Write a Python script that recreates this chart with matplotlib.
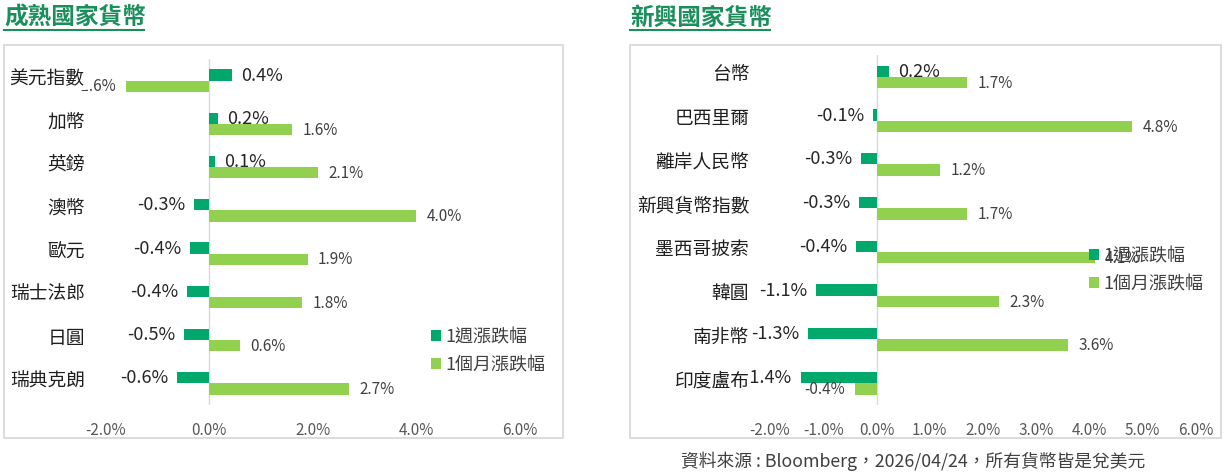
import numpy as np
import matplotlib
matplotlib.use("Agg")
import matplotlib.pyplot as plt
from matplotlib.patches import Rectangle
from matplotlib.lines import Line2D

plt.rcParams['font.family'] = ['Noto Sans CJK TC', 'DejaVu Sans']

# ── Datos ────────────────────────────────────────────────────────────────
dev_names = ['美元指數', '加幣', '英鎊', '澳幣', '歐元', '瑞士法郎', '日圓', '瑞典克朗']
dev_week = [0.44, 0.17, 0.11, -0.29, -0.37, -0.43, -0.48, -0.62]
dev_month = [-1.6, 1.6, 2.1, 4.0, 1.9, 1.8, 0.6, 2.7]
dev_ticks = [-2, 0, 2, 4, 6]

em_names = ['台幣', '巴西里爾', '離岸人民幣', '新興貨幣指數', '墨西哥披索', '韓圓', '南非幣', '印度盧布']
em_week = [0.23, -0.06, -0.29, -0.32, -0.38, -1.13, -1.28, -1.42]
em_month = [1.7, 4.8, 1.2, 1.7, 4.1, 2.3, 3.6, -0.4]
em_ticks = [-2, -1, 0, 1, 2, 3, 4, 5, 6]

series_names = ['1週漲跌幅', '1個月漲跌幅']
source_text = '資料來源 : Bloomberg，2026/04/24，所有貨幣皆是兌美元'

C_WEEK = '#00A86B'
C_MONTH = '#92D050'
C_TITLE = '#1A8F5C'
C_LINE = '#D9D9D9'

W, H = 1225, 472
fig = plt.figure(figsize=(W / 100, H / 100), dpi=100)


def px(x0, y0, x1, y1):
    # caja en pixeles (origen arriba-izquierda) -> fraccion de figura
    return [x0 / W, 1 - y1 / H, (x1 - x0) / W, (y1 - y0) / H]


def panel(rect, names, week, month, ticks, title, tbox, box, leg_xy):
    ax = fig.add_axes(px(*rect))
    y = np.arange(len(names))
    h = 0.26
    ax.barh(y - h / 2, week, height=h, color=C_WEEK, label=series_names[0], zorder=2)
    ax.barh(y + h / 2, month, height=h, color=C_MONTH, label=series_names[1], zorder=2)
    ax.set_ylim(len(names) - 0.5, -0.5)
    ax.set_xlim(ticks[0], ticks[-1])
    ax.axvline(0, color=C_LINE, lw=1, zorder=1)

    for yi, v in zip(y, week):
        s = 1 if v >= 0 else -1
        ax.annotate(f'{v:.1f}%', xy=(v, yi - h / 2), xytext=(6.5 * s, -0.5),
                    textcoords='offset points', ha='left' if s > 0 else 'right',
                    va='center', fontsize=13, color='#262626', zorder=3)
    for yi, v in zip(y, month):
        s = 1 if v >= 0 else -1
        ax.annotate(f'{v:.1f}%', xy=(v, yi + h / 2), xytext=(7.5 * s, -0.5),
                    textcoords='offset points', ha='left' if s > 0 else 'right',
                    va='center', fontsize=11, color='#404040', zorder=3)
    for yi, n in zip(y, names):
        ax.annotate(n, xy=(0, yi), xycoords=('axes fraction', 'data'),
                    xytext=(-15, 1.5), textcoords='offset points', ha='right',
                    va='center', fontsize=13.5, color='#1f1f1f', zorder=6,
                    annotation_clip=False,
                    bbox=dict(boxstyle='square,pad=0.05', fc='white', ec='none'))

    ax.set_xticks(ticks)
    ax.set_xticklabels([f'{t:.1f}%' for t in ticks])
    ax.tick_params(axis='x', length=0, pad=12, labelsize=11, labelcolor='#595959')
    ax.set_yticks([])
    for sp in ax.spines.values():
        sp.set_visible(False)
    ax.patch.set_alpha(0)

    leg = ax.legend(loc='upper left', bbox_to_anchor=(leg_xy[0] / W, 1 - leg_xy[1] / H),
                    bbox_transform=fig.transFigure, frameon=False, fontsize=13,
                    handlelength=0.55, handleheight=0.6, handletextpad=0.25,
                    labelspacing=0.55, borderpad=0, borderaxespad=0)
    for t in leg.get_texts():
        t.set_color('#404040')

    # marco y titulo
    x0, y0, x1, y1 = box
    fig.add_artist(Rectangle((x0 / W, 1 - y1 / H), (x1 - x0) / W, (y1 - y0) / H,
                             transform=fig.transFigure, fill=False, ec=C_LINE, lw=1.3))
    tx0, tx1 = tbox
    fig.text(tx0 / W, 1 - 17.5 / H, title, fontsize=17, weight='bold',
             color=C_TITLE, va='center', ha='left')
    fig.add_artist(Line2D([tx0 / W, tx1 / W], [1 - 30 / H] * 2,
                          transform=fig.transFigure, color=C_TITLE, lw=1.5))
    return ax


panel((105.6, 59, 520, 405), dev_names, dev_week, dev_month, dev_ticks,
      '成熟國家貨幣', (4, 144), (4, 45, 563, 438), (431, 328))
panel((770, 55, 1196, 405), em_names, em_week, em_month, em_ticks,
      '新興國家貨幣', (630, 770), (630, 45, 1221, 438), (1089, 247))

fig.text(913 / W, 1 - 461 / H, source_text, ha='center', va='center',
         fontsize=12.8, color='#404040')

plt.savefig('out.png', dpi=100)
